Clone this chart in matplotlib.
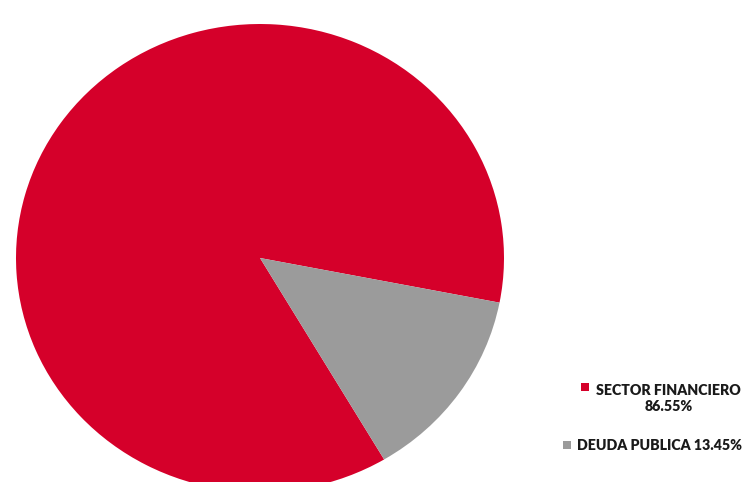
import matplotlib
matplotlib.use("Agg")
import matplotlib.pyplot as plt
from matplotlib.patches import Rectangle

categories = ["SECTOR FINANCIERO", "DEUDA PUBLICA"]
values = [86.55, 13.45]
colors = ["#D5002A", "#9B9B9B"]

W, H = 743, 482
fig = plt.figure(figsize=(W / 100, H / 100), dpi=100)
plt.rcParams['font.family'] = ['Lato', 'DejaVu Sans']

# pie axes (ellipse: rx=244px, ry=234px, center (260,258))
cx, cy, rx, ry = 260, 258, 244, 234
ax = fig.add_axes([(cx - rx) / W, (H - (cy + ry)) / H, 2 * rx / W, 2 * ry / H])
ax.pie(values, colors=colors, startangle=-11, counterclock=True,
       radius=1, wedgeprops=dict(linewidth=0))
ax.set_aspect('auto')
ax.set_xlim(-1, 1)
ax.set_ylim(-1, 1)
ax.axis('off')

def px(x, y):
    return x / W, 1 - y / H

labels = [f"{categories[0]}\n{values[0]:.2f}%", f"{categories[1]} {values[1]:.2f}%"]
sq = [(581, 387), (563, 444.5)]
# baseline of last line of each label
tx = [(596, 411), (577, 450.5)]
for i in range(2):
    x0, y0 = sq[i]
    fig.add_artist(Rectangle(px(x0, y0 + 4), 8 / W, 8 / H, transform=fig.transFigure,
                             facecolor=colors[i], edgecolor='none'))
    x1, y1 = tx[i]
    fig.text(*px(x1, y1), labels[i], ha='left', va='baseline',
             multialignment='center', fontsize=10.2, fontweight='heavy', color='#1a1a1a',
             linespacing=1.25)

fig.savefig("out.png", dpi=100)
